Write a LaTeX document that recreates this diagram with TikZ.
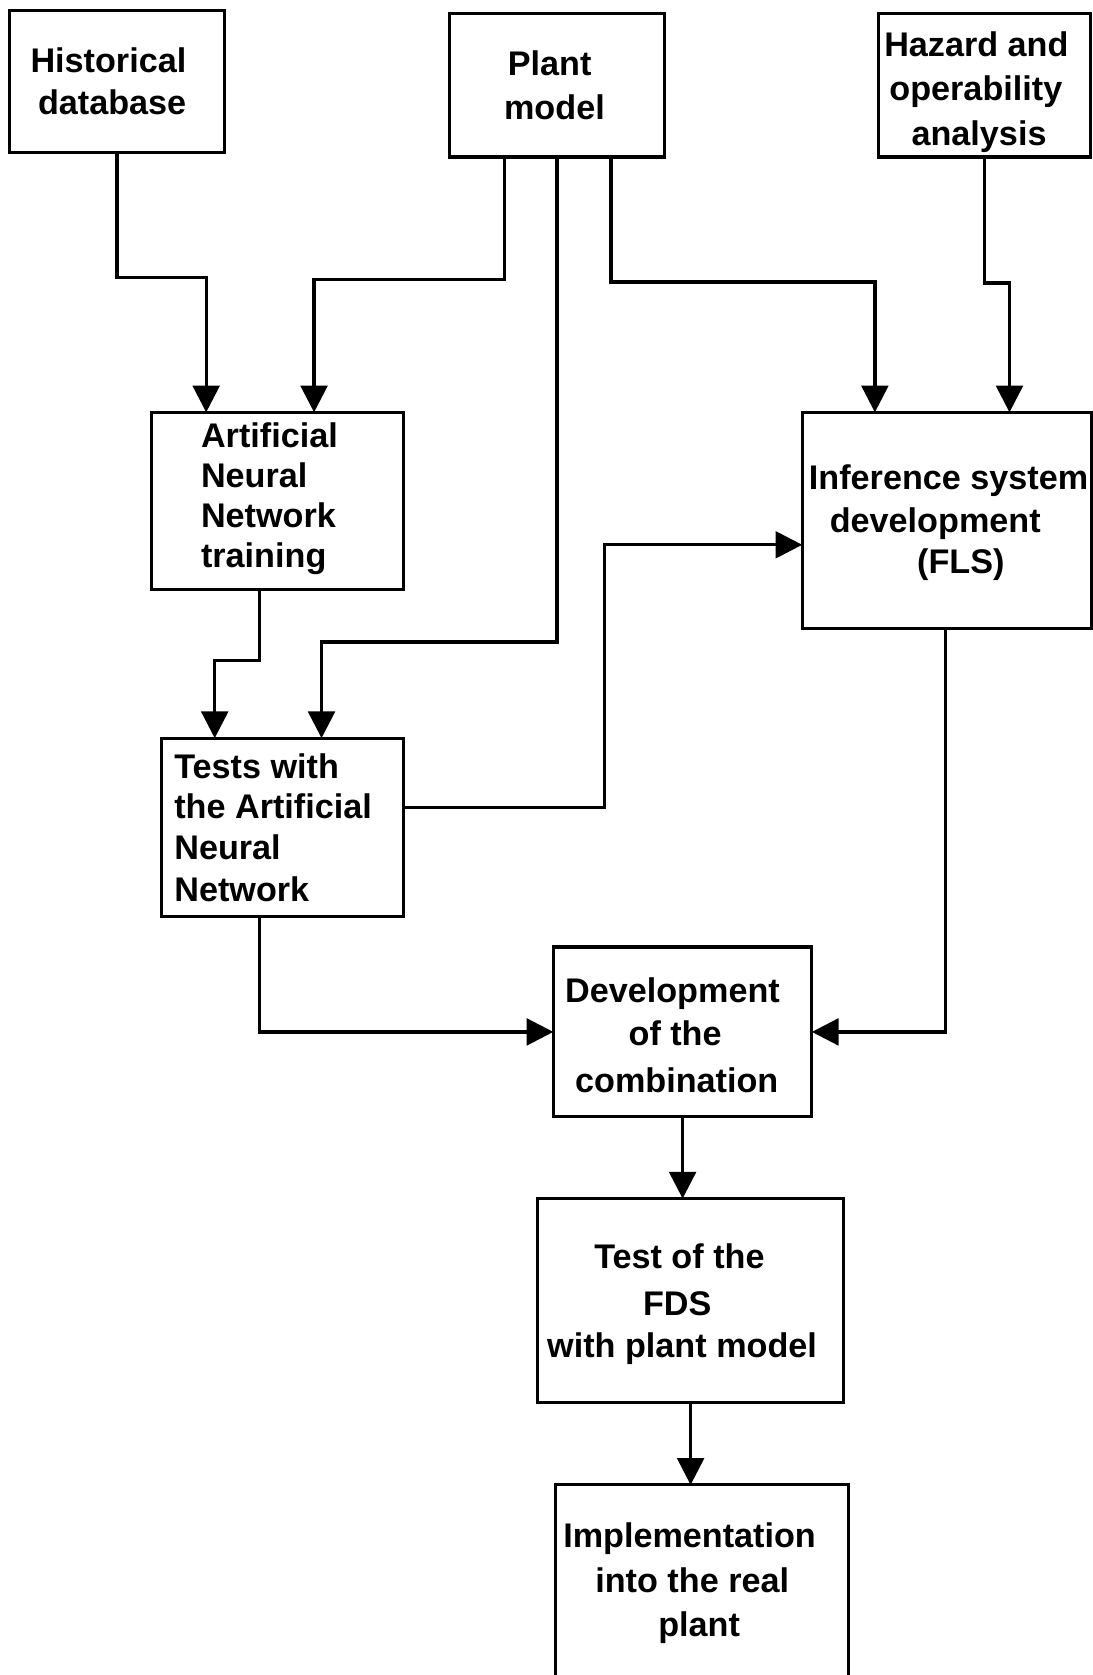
\documentclass[tikz,border=0pt]{standalone}
\usepackage{fontspec}
\setmainfont{Liberation Sans}
\usetikzlibrary{arrows.meta}
\begin{document}
\begin{tikzpicture}[x=1pt, y=-1pt,
  box/.style={draw, line width=2.9pt, rectangle, inner sep=0pt, outer sep=0pt},
  lbl/.style={anchor=base, inner sep=0pt, font=\bfseries\fontsize{32}{38}\selectfont},
  lbll/.style={lbl, anchor=base west},
  arr/.style={line width=3pt, -{Triangle[length=25pt, width=25pt]}}]
\useasboundingbox (0,0) rectangle (1023,1568);
\fill[white] (0,0) rectangle (1023,1568);

% boxes
\node[box, minimum width=201pt, minimum height=133pt] (hist)   at (109.5,76.5) {};
\node[box, minimum width=201pt, minimum height=134pt] (plant)  at (521.5,80) {};
\node[box, minimum width=199pt, minimum height=134pt] (hazard) at (921.5,80) {};
\node[box, minimum width=236pt, minimum height=166pt] (ann)    at (260,469) {};
\node[box, minimum width=271pt, minimum height=202pt] (inf)    at (886.5,487) {};
\node[box, minimum width=227pt, minimum height=167pt] (tests)  at (264.5,774.5) {};
\node[box, minimum width=242pt, minimum height=159pt] (comb)   at (639,966) {};
\node[box, minimum width=287pt, minimum height=191pt] (fds)    at (646.5,1217.5) {};
\node[box, minimum width=274pt, minimum height=200pt] (impl)   at (657,1490) {};

% texts
\node[lbl] (t1a) at (101.5,67.5) {Historical};
\node[lbl] (t1b) at (105,107.5) {database};
\node[lbl] (t2a) at (514.5,70.5) {Plant};
\node[lbl] (t2b) at (519,111.5) {model};
\node[lbl] (t3a) at (914,52.5) {Hazard and};
\node[lbl] (t3b) at (913.5,94) {operability};
\node[lbl] (t3c) at (916.5,136) {analysis};
\node[lbll] (t4a) at (188,419) {Artificial};
\node[lbll] (t4b) at (188,456) {Neural};
\node[lbll] (t4c) at (188,493.5) {Network};
\node[lbll] (t4d) at (188,531) {training};
\node[lbl] (t5a) at (888,458.5) {Inference system};
\node[lbl] (t5b) at (875.5,498.5) {development};
\node[lbl] (t5c) at (899.5,536.5) {(FLS)};
\node[lbll] (t6a) at (163,729) {Tests with};
\node[lbll] (t6b) at (163,766.5) {the Artificial};
\node[lbll] (t6c) at (163,805) {Neural};
\node[lbll] (t6d) at (163,844) {Network};
\node[lbl] (t7a) at (629.5,938) {Development};
\node[lbl] (t7b) at (632,979) {of the};
\node[lbl] (t7c) at (633.5,1023) {combination};
\node[lbl] (t8a) at (636,1187) {Test of the};
\node[lbl] (t8b) at (634,1231) {FDS};
\node[lbl] (t8c) at (638.5,1271) {with plant model};
\node[lbl] (t9a) at (645.5,1449) {Implementation};
\node[lbl] (t9b) at (648,1490.5) {into the real};
\node[lbl] (t9c) at (654.5,1531.5) {plant};

% connectors
\draw[arr] (hist.south) |- (193,260) -- ([xshift=-67pt]ann.north);
\draw[arr] ([xshift=-49.5pt]plant.south) |- (294,262) -- ([xshift=34pt]ann.north);
\draw[arr] (plant.south) |- (301,601) -- ([xshift=36.5pt]tests.north);
\draw[arr] ([xshift=50.5pt]plant.south) |- (819,264) -- ([xshift=-67.5pt]inf.north);
\draw[arr] (hazard.south) |- (945,265) -- ([xshift=58.5pt]inf.north);
\draw[arr] ([xshift=-17pt]ann.south) |- (201,618) -- ([xshift=-63.5pt]tests.north);
\draw[arr] ([yshift=18.5pt]tests.east) -| (566,510) -- ([yshift=-23pt]inf.west);
\draw[arr] ([xshift=-21.5pt]tests.south) |- (comb.west);
\draw[arr] ([xshift=-1.5pt]inf.south) |- (comb.east);
\draw[arr] (comb.south) -- (comb.south |- fds.north);
\draw[arr] (fds.south) -- (fds.south |- impl.north);
\end{tikzpicture}
\end{document}
